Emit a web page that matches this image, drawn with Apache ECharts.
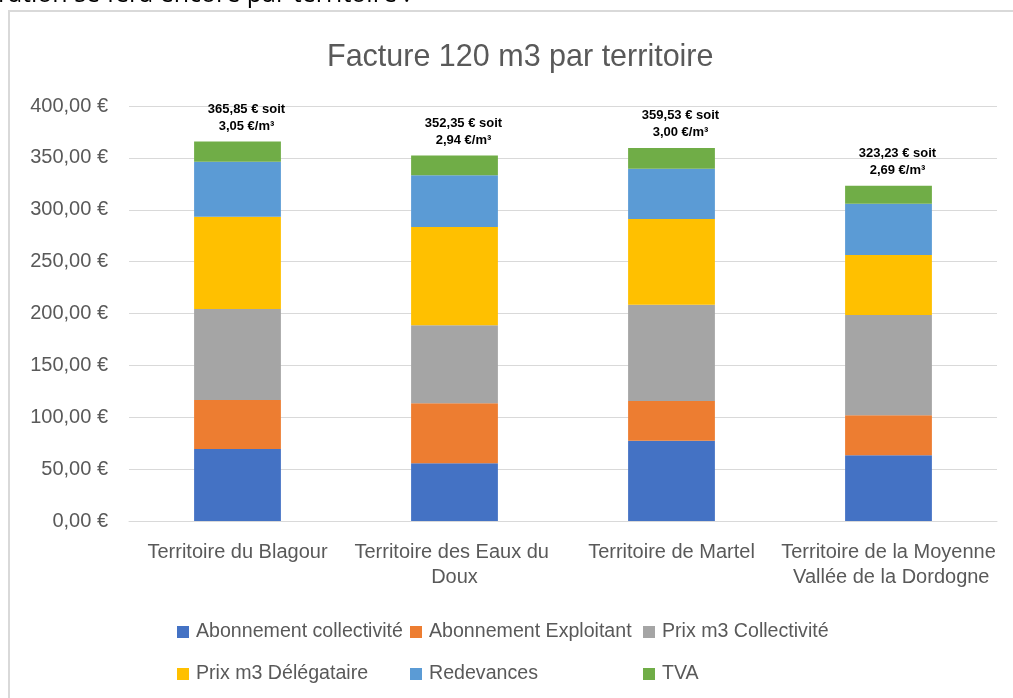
<!DOCTYPE html>
<html>
<head>
<meta charset="utf-8">
<script src="https://cdn.jsdelivr.net/npm/echarts@6/dist/echarts.min.js"></script>
<style>
html,body{margin:0;padding:0;background:#fff;}
#main{width:1013px;height:698px;}
</style>
</head>
<body>
<div id="main"></div>
<script>
var categories = ['Territoire du Blagour', 'Territoire des Eaux du Doux', 'Territoire de Martel', 'Territoire de la Moyenne Vallée de la Dordogne'];
var abonnementCollectivite = [69.4, 55.6, 77.4, 63.3];
var abonnementExploitant = [47.2, 57.8, 38.3, 38.6];
var prixM3Collectivite = [87.7, 75.2, 92.8, 96.7];
var prixM3Delegataire = [89.0, 94.8, 82.6, 57.8];
var redevances = [53.0, 49.8, 48.5, 49.4];
var tva = [19.55, 19.15, 19.93, 17.43];
var totals = [365.85, 352.35, 359.53, 323.23];
var perM3 = [3.05, 2.94, 3.00, 2.69];
var seriesNames = ['Abonnement collectivité', 'Abonnement Exploitant', 'Prix m3 Collectivité', 'Prix m3 Délégataire', 'Redevances', 'TVA'];
var yTicks = [0, 50, 100, 150, 200, 250, 300, 350, 400];

var colors = ['#4472C4', '#ED7D31', '#A5A5A5', '#FFC000', '#5B9BD5', '#70AD47'];
var FONT = "'Liberation Sans', Arial, sans-serif";

function fr(v) { return v.toFixed(2).replace('.', ','); }

var seriesData = [abonnementCollectivite, abonnementExploitant, prixM3Collectivite, prixM3Delegataire, redevances, tva];

var series = seriesData.map(function (d, i) {
  var s = {
    name: seriesNames[i],
    type: 'bar',
    stack: 'total',
    barWidth: '40%',
    data: d,
    itemStyle: { color: colors[i] }
  };
  if (i === seriesData.length - 1) {
    s.label = {
      show: true,
      position: 'top',
      distance: 7,
      offset: [9, 0],
      fontFamily: FONT,
      fontWeight: 'bold',
      fontSize: 13,
      lineHeight: 17,
      color: '#000',
      align: 'center',
      formatter: function (p) {
        return fr(totals[p.dataIndex]) + ' € soit\n' + fr(perM3[p.dataIndex]) + ' €/m³';
      }
    };
  }
  return s;
});

var chart = echarts.init(document.getElementById('main'), null, { renderer: 'canvas' });
var legendCommon = {
  top: 622,
  padding: 0,
  orient: 'vertical',
  itemWidth: 12,
  itemHeight: 12,
  itemGap: 22,
  icon: 'rect',
  textStyle: { fontFamily: FONT, fontSize: 19.6, color: '#595959', padding: [0, 0, 0, 2] },
  selectedMode: false
};
var legendLefts = [177, 410, 643];
chart.setOption({
  animation: false,
  backgroundColor: '#fff',
  title: {
    text: 'Facture 120 m3 par territoire',
    left: 322,
    top: 37,
    textStyle: { fontFamily: FONT, fontSize: 30.5, fontWeight: 'normal', color: '#595959' }
  },
  legend: legendLefts.map(function (l, c) {
    return Object.assign({}, legendCommon, { left: l, data: [seriesNames[c], seriesNames[c + 3]] });
  }),
  grid: { left: 129, right: 16, top: 106, bottom: 177, containLabel: false },
  xAxis: {
    type: 'category',
    data: categories,
    axisLine: { show: true, lineStyle: { color: '#D9D9D9', width: 1 } },
    axisTick: { show: false },
    axisLabel: {
      fontFamily: FONT, fontSize: 20, color: '#595959', margin: 19,
      width: 217, overflow: 'break', lineHeight: 25, interval: 0
    }
  },
  yAxis: {
    type: 'value',
    min: yTicks[0],
    max: yTicks[yTicks.length - 1],
    interval: yTicks[1] - yTicks[0],
    axisLine: { show: false },
    axisTick: { show: false },
    splitLine: { lineStyle: { color: '#D9D9D9', width: 1 } },
    axisLabel: {
      fontFamily: FONT, fontSize: 20, color: '#595959', margin: 21,
      formatter: function (v) { return fr(v) + ' €'; }
    }
  },
  graphic: [
    {
      type: 'rect',
      shape: { x: 9, y: 11, width: 1020, height: 700 },
      style: { fill: 'none', stroke: '#D9D9D9', lineWidth: 2 },
      silent: true
    },
    {
      type: 'text',
      left: -2,
      top: -18,
      style: { text: 'ration se fera encore par territoire :', font: "25px 'Open Sans', sans-serif", fill: '#000' },
      silent: true
    }
  ],
  series: series
});
</script>
</body>
</html>
